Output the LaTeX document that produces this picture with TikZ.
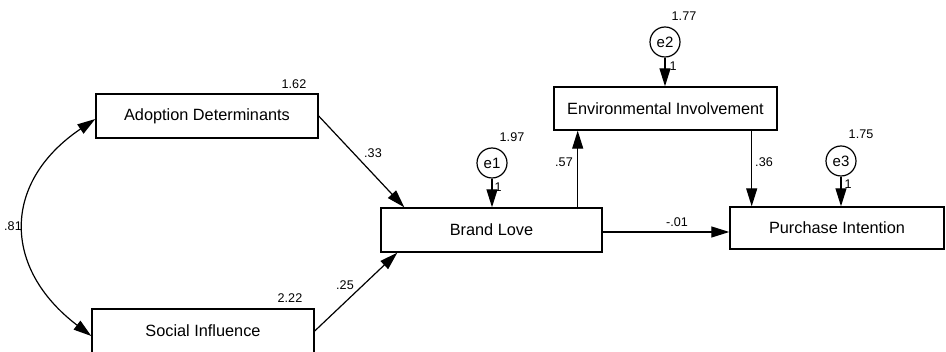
\documentclass[tikz,border=0pt]{standalone}
\usepackage{fontspec}
\setmainfont{Liberation Sans}
\usetikzlibrary{arrows.meta,calc}
\begin{document}
\begin{tikzpicture}[x=1pt,y=-1pt,
  var/.style={draw,line width=1.4pt,minimum width=222pt,minimum height=44pt,inner sep=0pt,font=\fontsize{16.3}{19}\selectfont},
  err/.style={draw,circle,line width=1.2pt,minimum size=30pt,inner sep=0pt,font=\fontsize{15}{17}\selectfont},
  lbl/.style={font=\fontsize{12.6}{14}\selectfont,inner sep=0pt},
  arr/.style={line width=1.2pt,-{Triangle[length=18pt,width=11pt]}},
  darr/.style={line width=1.2pt,{Triangle[length=18pt,width=11pt]}-{Triangle[length=18pt,width=11pt]}}]
\clip (0,0) rectangle (946,352);
\node[var] (AD) at (207,116) {Adoption Determinants};
\node[var] (SI) at (203,331) {Social Influence};
\node[var,minimum width=221pt] (BL) at (491.5,230) {Brand Love};
\node[var,minimum width=223pt,minimum height=43pt] (EI) at (665.5,108.5) {Environmental Involvement};
\node[var,minimum width=214pt,minimum height=42pt] (PI) at (837,228) {Purchase Intention};
\node[err] (e1) at (492,163) {e1};
\node[err] (e2) at (665,42) {e2};
\node[err] (e3) at (841,161) {e3};
% paths
\draw[arr] (AD.east) -- ([xshift=24pt]BL.north west);
\draw[arr] (SI.east) -- ([xshift=17pt]BL.south west);
\draw[arr] ([xshift=-25pt]BL.north east) -- ([xshift=-25pt]BL.north east |- EI.south);
\draw[arr] ([xshift=-26pt]EI.south east) -- ([xshift=-26pt]EI.south east |- PI.north);
\draw[arr] ([yshift=-2pt]BL.east) -- ([yshift=-2pt]BL.east -| PI.west);
\draw[arr] (e1) -- (e1 |- BL.north);
\draw[arr] (e2) -- (e2 |- EI.north);
\draw[arr] (e3) -- (e3 |- PI.north);
\draw[darr] ([yshift=-3pt]AD.west) .. controls (2,182) and (2,268) .. ([yshift=-5pt]SI.west);
% labels
\node[lbl] (l162) at (294,84) {1.62};
\node[lbl] (l222) at (290,298) {2.22};
\node[lbl] (l81) at (13,226) {.81};
\node[lbl] (l33) at (373,153) {.33};
\node[lbl] (l25) at (345,285) {.25};
\node[lbl] (l197) at (512,137) {1.97};
\node[lbl] (l1a) at (498,187) {1};
\node[lbl] (l57) at (564,162) {.57};
\node[lbl] (l177) at (684,16) {1.77};
\node[lbl] (l1b) at (673,66) {1};
\node[lbl] (l36) at (764,162) {.36};
\node[lbl] (l175) at (861,134) {1.75};
\node[lbl] (l1c) at (848,184) {1};
\node[lbl] (l01) at (677,222) {-.01};
\end{tikzpicture}
\end{document}
